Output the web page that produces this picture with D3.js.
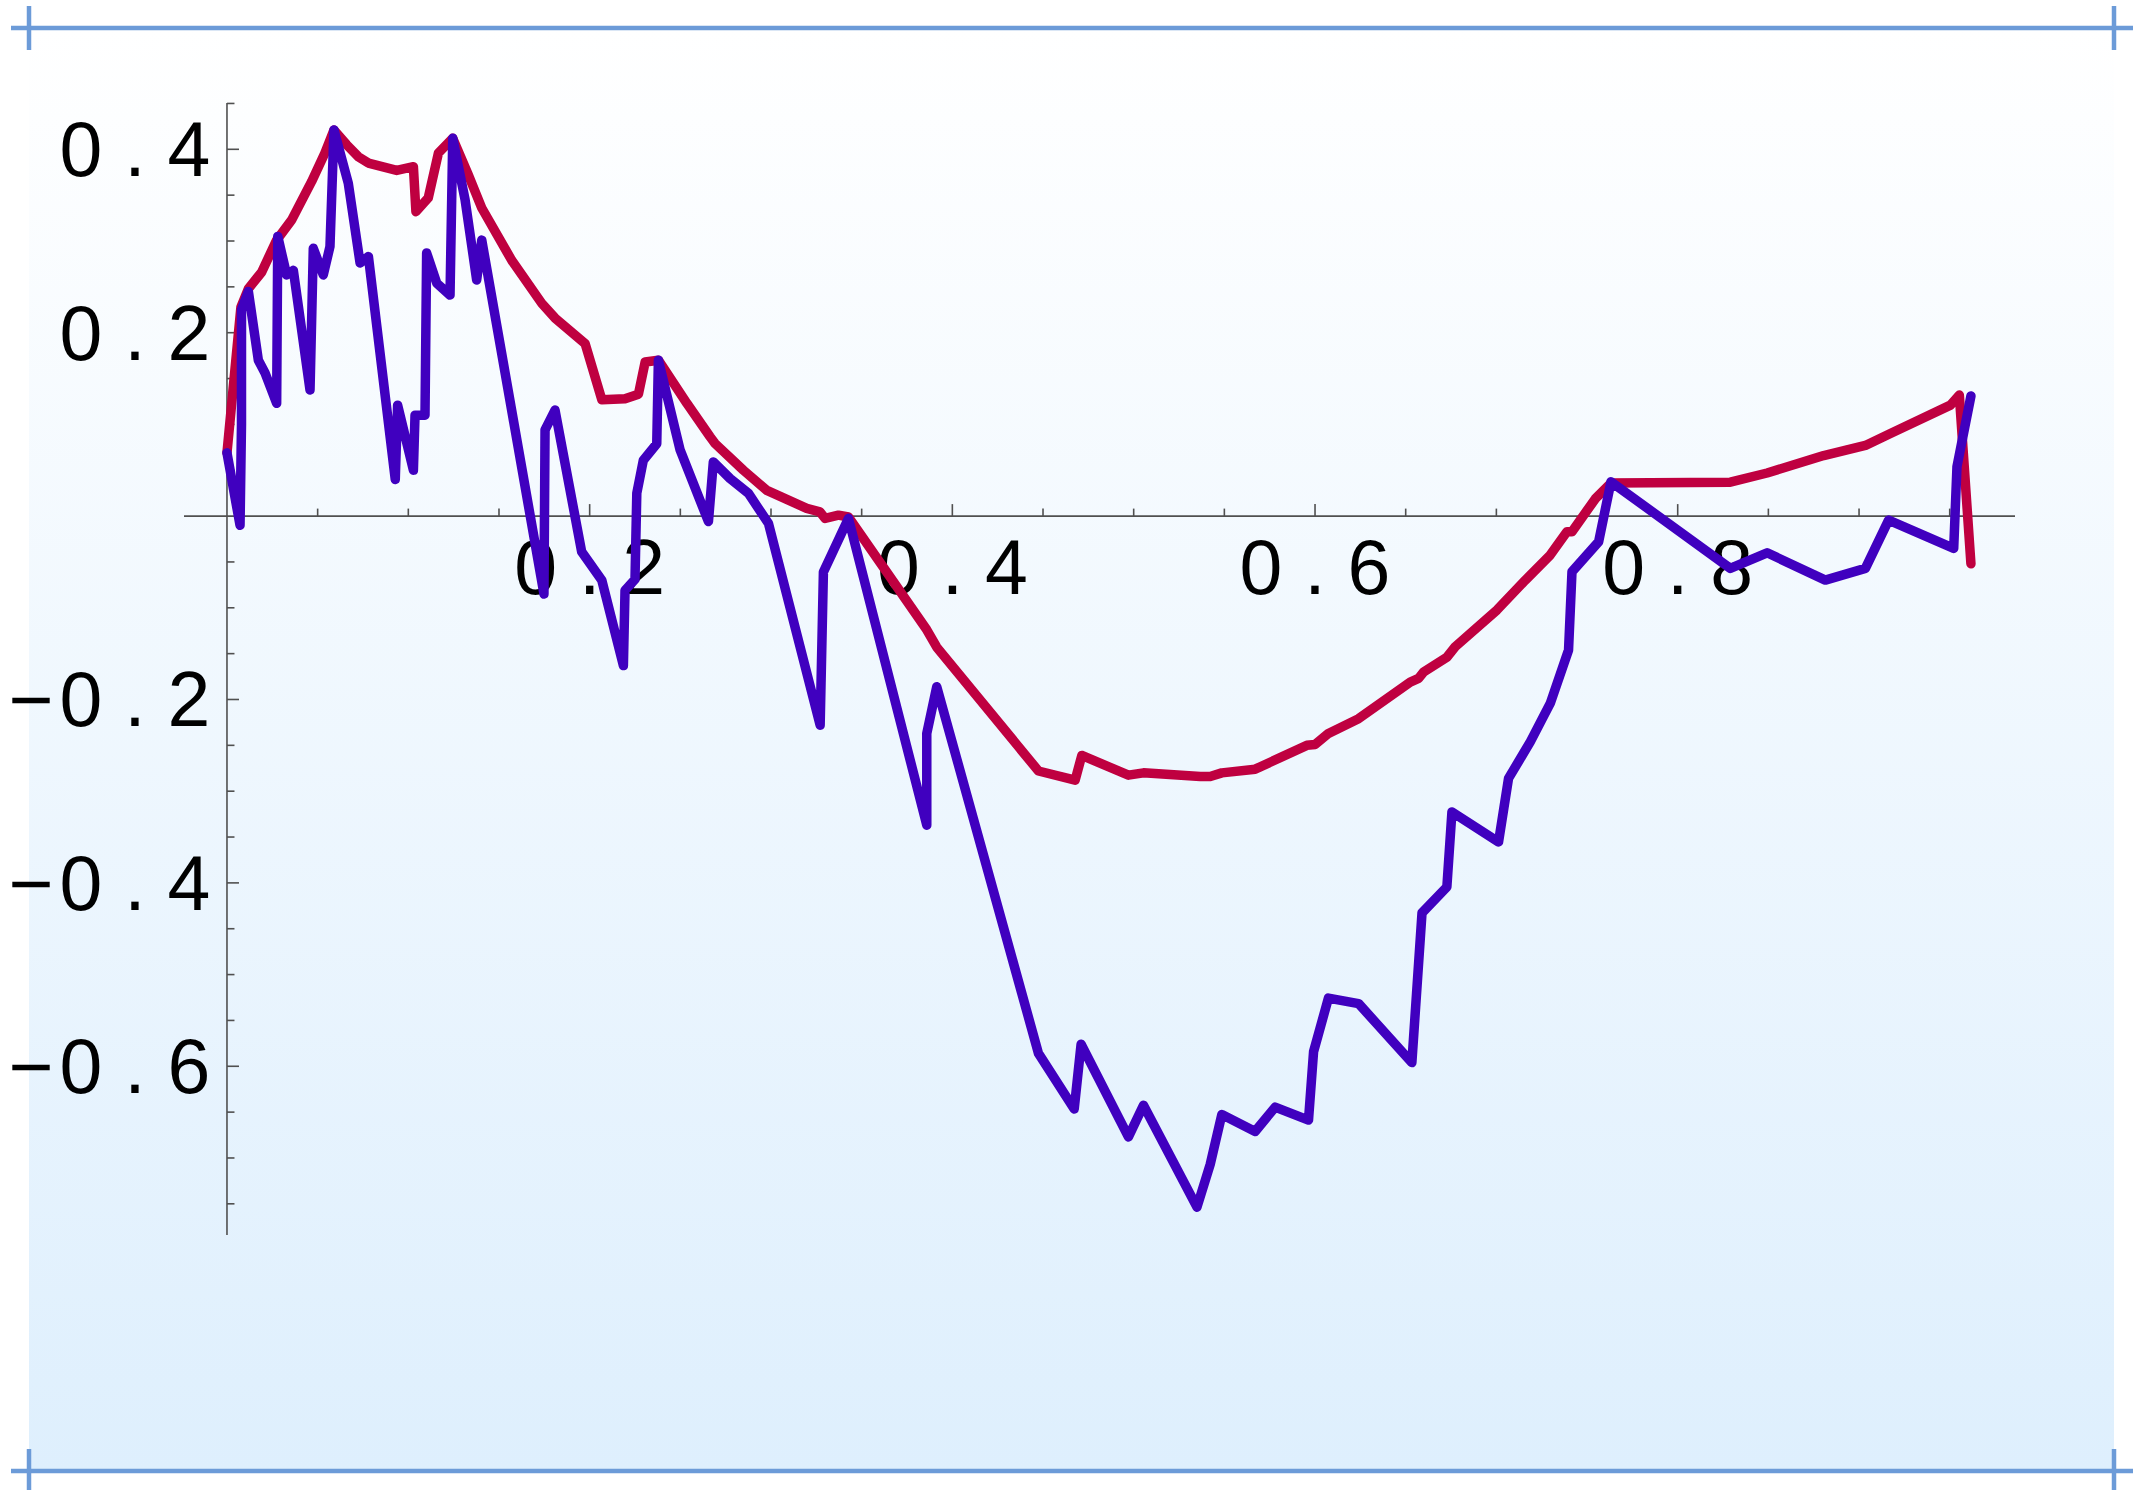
<!DOCTYPE html>
<html>
<head>
<meta charset="utf-8">
<script src="https://cdn.jsdelivr.net/npm/d3@7"></script>
<style>
  html, body { margin: 0; padding: 0; background: #fff; }
  svg { display: block; }
</style>
</head>
<body>
<svg id="chart"></svg>
<script>
// series
const redX = [0, 0.0077, 0.0118, 0.0191, 0.0274, 0.0357, 0.0467, 0.054, 0.059, 0.066, 0.0724, 0.078, 0.0936, 0.1028, 0.1042, 0.111, 0.1166, 0.1245, 0.1331, 0.1405, 0.157, 0.1736, 0.1809, 0.1975, 0.2067, 0.2195, 0.2269, 0.2306, 0.2379, 0.2536, 0.2664, 0.2692, 0.2848, 0.2977, 0.3197, 0.327, 0.3298, 0.3372, 0.3427, 0.3859, 0.3914, 0.4475, 0.4677, 0.4714, 0.4971, 0.5054, 0.5367, 0.5422, 0.5486, 0.567, 0.5955, 0.6001, 0.6074, 0.624, 0.6525, 0.6571, 0.6599, 0.6727, 0.6773, 0.7003, 0.7159, 0.7297, 0.7389, 0.7417, 0.7546, 0.7632, 0.829, 0.8493, 0.8805, 0.9035, 0.9173, 0.9504, 0.9553, 0.9617];
const redY = [0.069, 0.228, 0.248, 0.266, 0.301, 0.323, 0.365, 0.396, 0.421, 0.405, 0.392, 0.385, 0.377, 0.381, 0.332, 0.347, 0.396, 0.412, 0.372, 0.336, 0.279, 0.232, 0.216, 0.188, 0.127, 0.128, 0.133, 0.168, 0.170, 0.123, 0.0865, 0.079, 0.050, 0.028, 0.0084, 0.0047, -0.0025, 0.001, -0.001, -0.124, -0.143, -0.278, -0.288, -0.261, -0.2825, -0.280, -0.284, -0.284, -0.280, -0.276, -0.250, -0.249, -0.237, -0.221, -0.181, -0.177, -0.170, -0.154, -0.1425, -0.1025, -0.070, -0.0425, -0.017, -0.017, 0.019, 0.036, 0.037, 0.047, 0.066, 0.077, 0.090, 0.121, 0.132, -0.052];

const blueX = [0, 0.0072, 0.0080, 0.0080, 0.0118, 0.0173, 0.021, 0.0274, 0.028, 0.0329, 0.0366, 0.0458, 0.0476, 0.0531, 0.0568, 0.059, 0.0669, 0.0734, 0.078, 0.0928, 0.0941, 0.1028, 0.1037, 0.1092, 0.1101, 0.1157, 0.123, 0.1245, 0.1313, 0.1377, 0.1405, 0.1748, 0.1754, 0.1809, 0.1956, 0.2067, 0.2186, 0.2195, 0.225, 0.226, 0.2296, 0.237, 0.2379, 0.2499, 0.2655, 0.2682, 0.2774, 0.2875, 0.2986, 0.3271, 0.3289, 0.3427, 0.3859, 0.3859, 0.3914, 0.4475, 0.4672, 0.471, 0.4971, 0.5054, 0.5349, 0.5422, 0.5486, 0.567, 0.578, 0.5964, 0.5992, 0.6074, 0.624, 0.6534, 0.659, 0.6727, 0.6755, 0.7012, 0.7067, 0.7187, 0.7297, 0.7398, 0.7417, 0.7564, 0.7632, 0.829, 0.8493, 0.8814, 0.9035, 0.9163, 0.9522, 0.954, 0.9617];
const blueY = [0.069, -0.010, 0.10, 0.225, 0.245, 0.170, 0.156, 0.123, 0.305, 0.263, 0.268, 0.1375, 0.292, 0.263, 0.294, 0.421, 0.363, 0.276, 0.283, 0.040, 0.121, 0.050, 0.110, 0.110, 0.287, 0.254, 0.241, 0.412, 0.345, 0.2575, 0.301, -0.085, 0.094, 0.1156, -0.039, -0.070, -0.163, -0.081, -0.069, 0.025, 0.061, 0.079, 0.170, 0.072, -0.006, 0.059, 0.041, 0.025, -0.008, -0.228, -0.061, -0.0025, -0.337, -0.237, -0.186, -0.586, -0.6466, -0.576, -0.677, -0.6425, -0.7536, -0.707, -0.6527, -0.671, -0.6446, -0.6587, -0.584, -0.5256, -0.5316, -0.596, -0.4327, -0.4045, -0.3226, -0.3553, -0.2861, -0.2462, -0.2043, -0.1462, -0.0607, -0.028, 0.0374, -0.057, -0.040, -0.0698, -0.057, -0.0044, -0.0352, 0.054, 0.131];

const xTickValues = [0.2, 0.4, 0.6, 0.8];
const xTickLabels = ["0.2", "0.4", "0.6", "0.8"];
const yTickValues = [0.4, 0.2, -0.2, -0.4, -0.6];
const yTickLabels = ["0.4", "0.2", "\u22120.2", "\u22120.4", "\u22120.6"];

const width = 2152, height = 1490;

const x = d3.scaleLinear().domain([-0.0237, 0.986]).range([184, 2015]);
const y = d3.scaleLinear().domain([-0.784, 0.4505]).range([1235, 103]);

const svg = d3.select("#chart")
    .attr("width", width)
    .attr("height", height);

const grad = svg.append("defs").append("linearGradient")
    .attr("id", "bg")
    .attr("x1", 0).attr("y1", 0).attr("x2", 0).attr("y2", 1);
grad.append("stop").attr("offset", 0).attr("stop-color", "#ffffff");
grad.append("stop").attr("offset", 1).attr("stop-color", "#deeffd");

// panel background + frame
const frameTop = 28, frameBottom = 1471, frameLeft = 29, frameRight = 2114;
svg.append("rect")
    .attr("x", frameLeft).attr("y", frameTop)
    .attr("width", frameRight - frameLeft).attr("height", frameBottom - frameTop)
    .attr("fill", "url(#bg)");

const frame = svg.append("g")
    .attr("stroke", "#6c9bd8")
    .attr("stroke-width", 4.5);
[frameTop, frameBottom].forEach(fy => {
  frame.append("line").attr("x1", 11).attr("x2", 2133).attr("y1", fy).attr("y2", fy);
  [frameLeft, frameRight].forEach(fx => {
    frame.append("line").attr("x1", fx).attr("x2", fx).attr("y1", fy - 22).attr("y2", fy + 22);
  });
});

// axes
const axisColor = "#505050";
const x0 = x(0), y0 = y(0);
const axes = svg.append("g").attr("stroke", axisColor).attr("stroke-width", 1.6);
axes.append("line").attr("x1", x.range()[0]).attr("x2", x.range()[1]).attr("y1", y0).attr("y2", y0);
axes.append("line").attr("x1", x0).attr("x2", x0).attr("y1", y.range()[1]).attr("y2", y.range()[0]);

const xMinor = d3.range(1, 20).map(i => +(i * 0.05).toFixed(2));
const yMinor = d3.range(-15, 10).filter(i => i !== 0).map(i => +(i * 0.05).toFixed(2));
const isMajor = v => Math.abs(v * 5 - Math.round(v * 5)) < 1e-6;

axes.selectAll("line.xt")
  .data(xMinor)
  .join("line")
    .attr("class", "xt")
    .attr("x1", d => x(d)).attr("x2", d => x(d))
    .attr("y1", y0).attr("y2", d => y0 - (isMajor(d) ? 12 : 7.5));

axes.selectAll("line.yt")
  .data(yMinor)
  .join("line")
    .attr("class", "yt")
    .attr("y1", d => y(d)).attr("y2", d => y(d))
    .attr("x1", x0).attr("x2", d => x0 + (isMajor(d) ? 12 : 7.5));

// tick labels: fixed-width character cells, like the typewriter-style original
const cell = 54;
const labels = svg.append("g")
    .attr("font-family", "'Liberation Sans', Arimo, sans-serif")
    .attr("font-size", 77)
    .attr("fill", "#000")
    .attr("text-anchor", "middle");

labels.selectAll("text.xl")
  .data(xTickValues)
  .join("text")
    .attr("class", "xl")
    .attr("y", y0 + 78)
  .selectAll("tspan")
  .data((d, i) => {
    const chars = xTickLabels[i].split("");
    return chars.map((c, k) => ({ c, cx: x(d) + (k - (chars.length - 1) / 2) * cell }));
  })
  .join("tspan")
    .attr("x", d => d.cx)
    .text(d => d.c);

labels.selectAll("text.yl")
  .data(yTickValues)
  .join("text")
    .attr("class", "yl")
    .attr("y", d => y(d) + 27)
  .selectAll("tspan")
  .data((d, i) => {
    const chars = yTickLabels[i].split("");
    return chars.map((c, k) => ({ c, cx: x0 - 38 - (chars.length - 1 - k) * cell + (c === "\u2212" ? 4 : 0) }));
  })
  .join("tspan")
    .attr("x", d => d.cx)
    .text(d => d.c);

// lines
const line = d3.line().x(d => x(d[0])).y(d => y(d[1]));
const series = [
  { color: "#bf0040", pts: d3.zip(redX, redY) },
  { color: "#4000bf", pts: d3.zip(blueX, blueY) }
];
svg.append("g")
  .selectAll("path")
  .data(series)
  .join("path")
    .attr("fill", "none")
    .attr("stroke", d => d.color)
    .attr("stroke-width", 9.5)
    .attr("stroke-linejoin", "round")
    .attr("stroke-linecap", "round")
    .attr("d", d => line(d.pts));
</script>
</body>
</html>
